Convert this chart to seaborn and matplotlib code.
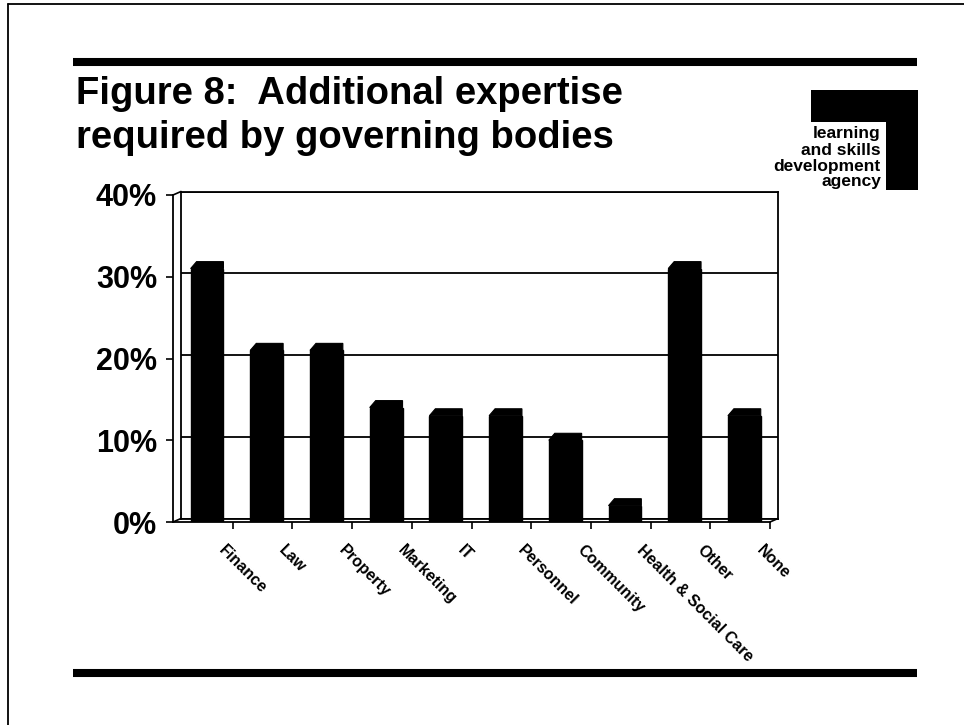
import matplotlib
matplotlib.use("Agg")
import matplotlib.pyplot as plt
import matplotlib.transforms as mtransforms
from matplotlib.lines import Line2D
from matplotlib.patches import Polygon, Rectangle
import numpy as np
import pandas as pd
import seaborn as sns

# Survey results: share of governing bodies needing each kind of expertise (%)
categories = ["Finance", "Law", "Property", "Marketing", "IT", "Personnel",
              "Community", "Health & Social Care", "Other", "None"]
shares = [31, 21, 21, 14, 13, 13, 10, 2, 31, 13]
y_ticks = [0, 10, 20, 30, 40]
y_tick_labels = ["0%", "10%", "20%", "30%", "40%"]
title_lines = ["Figure 8:  Additional expertise", "required by governing bodies"]
logo_lines = ["learning", "and skills", "development", "agency"]

W, H = 964, 725
sns.set_theme(style="white")
plt.rcParams["font.family"] = ["Liberation Sans", "DejaVu Sans"]

fig = plt.figure(figsize=(W / 100, H / 100), dpi=100)
fig.patch.set_facecolor("white")


def px_box(x0, y0, x1, y1):
    """Axes rectangle in figure fractions from pixel corners (top-left origin)."""
    return [x0 / W, 1 - y1 / H, (x1 - x0) / W, (y1 - y0) / H]


def fx(x):
    return x / W


def fy(y):
    return 1 - y / H


# Back wall of the pseudo-3D chart: gridlines and frame
back = fig.add_axes(px_box(181, 191.5, 778, 518.5))
back.set_xlim(-0.5, 9.5)
back.set_ylim(0, 40)
back.set_yticks(y_ticks)
back.set_xticks([])
back.tick_params(left=False, labelleft=False, bottom=False, labelbottom=False)
back.yaxis.grid(True, color="black", linewidth=1.3)
for s in back.spines.values():
    s.set_color("black")
    s.set_linewidth(1.3)
back.set_facecolor("white")

# Front plane with the bars and axes
front = fig.add_axes(px_box(173, 195, 770, 522))
front.patch.set_alpha(0)
df = pd.DataFrame({"area": categories, "share": shares})
sns.barplot(data=df, x="area", y="share", color="black", saturation=1,
            width=0.55, ax=front, edgecolor="black")
front.set_xlim(-0.5, 9.5)
front.set_ylim(0, 40)
front.set_xlabel("")
front.set_ylabel("")

# Give each bar a little depth: nudge it back and add a bevelled top
depth_x = 0.10
depth_y = 0.85
bars = list(front.patches)
for p in bars:
    p.set_x(p.get_x() + 0.07)
for p in bars:
    x0, w, h = p.get_x(), p.get_width(), p.get_height()
    front.add_patch(Polygon([(x0, h), (x0 + depth_x, h + depth_y),
                             (x0 + w, h + depth_y), (x0 + w, h)],
                            closed=True, facecolor="black", edgecolor="black",
                            linewidth=0.8, clip_on=False))

for side in ("top", "right"):
    front.spines[side].set_visible(False)
for side in ("left", "bottom"):
    front.spines[side].set_color("black")
    front.spines[side].set_linewidth(1.3)

front.set_yticks(y_ticks, labels=y_tick_labels)
front.tick_params(axis="y", left=True, direction="out", length=5, width=1.2,
                  pad=6.5, labelsize=22, colors="black")
for lbl in front.get_yticklabels():
    lbl.set_fontweight("bold")

front.set_xticks(range(len(categories)), labels=categories)
front.set_xticks(np.arange(0.5, len(categories), 1.0), minor=True)
front.tick_params(axis="x", which="major", bottom=True, length=0, pad=15,
                  labelsize=11.5, colors="black")
front.tick_params(axis="x", which="minor", bottom=True, direction="out",
                  length=5, width=1.2, colors="black")
shift = mtransforms.ScaledTranslation(24 / 100, 0, fig.dpi_scale_trans)
for lbl in front.get_xticklabels():
    lbl.set_rotation(-45)
    lbl.set_ha("left")
    lbl.set_va("top")
    lbl.set_rotation_mode("anchor")
    lbl.set_fontweight("bold")
    lbl.set_transform(lbl.get_transform() + shift)

# Edges joining the front plane to the back wall
for (xa, ya), (xb, yb) in [((173, 195), (181, 191.5)),
                           ((173, 522), (181, 518.5)),
                           ((770, 522), (778, 518.5))]:
    fig.add_artist(Line2D([fx(xa), fx(xb)], [fy(ya), fy(yb)],
                          transform=fig.transFigure, color="black", linewidth=1.2))

# Page frame and heavy rules
fig.add_artist(Line2D([fx(8), fx(8)], [0, fy(4)], transform=fig.transFigure,
                      color="black", linewidth=1.3))
fig.add_artist(Line2D([fx(8), 1], [fy(4), fy(4)], transform=fig.transFigure,
                      color="black", linewidth=1.3))
for yy in (62, 673):
    fig.add_artist(Line2D([fx(73), fx(917)], [fy(yy), fy(yy)],
                          transform=fig.transFigure, color="black",
                          linewidth=5.8, solid_capstyle="butt"))

# Title
for txt, base in zip(title_lines, (104, 148)):
    fig.text(fx(76), fy(base), txt, fontsize=27.5, fontweight="bold",
             va="baseline", ha="left", color="black")

# Agency logo
fig.add_artist(Rectangle((fx(811), fy(122)), fx(918) - fx(811), fy(90) - fy(122),
                         transform=fig.transFigure, facecolor="black",
                         edgecolor="none"))
fig.add_artist(Rectangle((fx(886), fy(190)), fx(918) - fx(886), fy(90) - fy(190),
                         transform=fig.transFigure, facecolor="black",
                         edgecolor="none"))
for txt, base in zip(logo_lines, (138, 155, 171, 186)):
    fig.text(fx(881), fy(base), txt, fontsize=12.5, fontweight="bold",
             va="baseline", ha="right", color="black")

fig.savefig("out.png", dpi=100, facecolor="white")
